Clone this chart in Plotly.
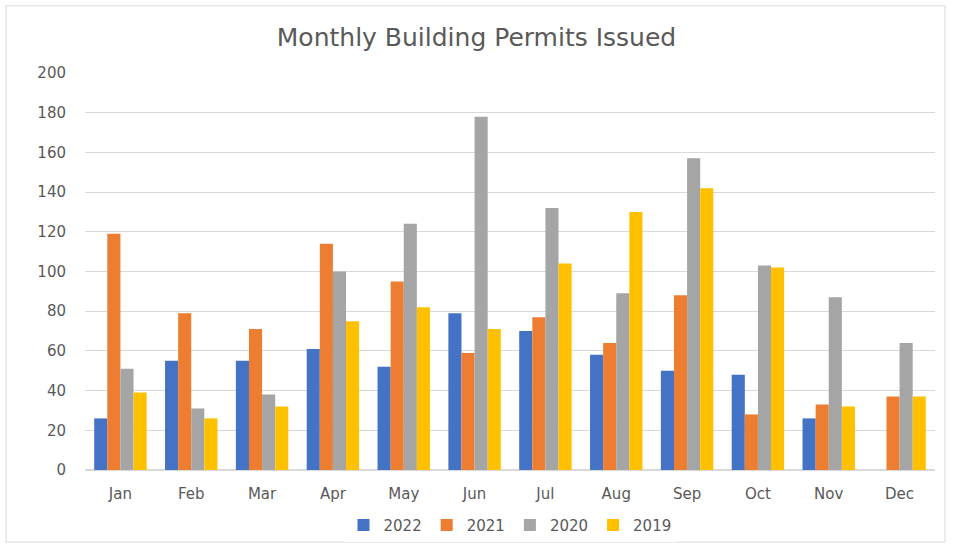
import plotly.graph_objects as go

months = ["Jan", "Feb", "Mar", "Apr", "May", "Jun", "Jul", "Aug", "Sep", "Oct", "Nov", "Dec"]
y2022 = [26, 55, 55, 61, 52, 79, 70, 58, 50, 48, 26, None]
y2021 = [119, 79, 71, 114, 95, 59, 77, 64, 88, 28, 33, 37]
y2020 = [51, 31, 38, 100, 124, 178, 132, 89, 157, 103, 87, 64]
y2019 = [39, 26, 32, 75, 82, 71, 104, 130, 142, 102, 32, 37]
series_names = ["2022", "2021", "2020", "2019"]
colors = ["#4472C4", "#ED7D31", "#A5A5A5", "#FFC000"]
y_ticks = [0, 20, 40, 60, 80, 100, 120, 140, 160, 180, 200]

W, H = 953, 554
L, R, T, B = 85, 18, 73, 79
pw, ph = W - L - R, H - T - B

fig = go.Figure()
for name, vals, col in zip(series_names, [y2022, y2021, y2020, y2019], colors):
    fig.add_trace(go.Bar(name=name, x=months, y=vals, marker=dict(color=col, line=dict(width=0))))

font = "DejaVu Sans, sans-serif"
fig.update_layout(
    width=W, height=H,
    margin=dict(l=L, r=R, t=T, b=B),
    paper_bgcolor="white", plot_bgcolor="white",
    barmode="group", bargap=0.26, bargroupgap=0,
    title=dict(text="Monthly Building Permits Issued", x=0.5, xanchor="center",
               y=1 - 37 / H, yanchor="middle",
               font=dict(family=font, size=25, color="#595959")),
    font=dict(family=font, color="#595959", size=15),
    legend=dict(orientation="h", x=0.5, xanchor="center", y=(T + ph - 531) / ph, yanchor="middle",
                font=dict(size=15, color="#595959"), itemwidth=30, traceorder="normal"),
    xaxis=dict(showgrid=False, ticks="", showline=True, linecolor="#d9d9d9",
               ticklabelstandoff=10, tickfont=dict(size=15, color="#595959")),
    yaxis=dict(range=[0, 200], tickvals=y_ticks, showgrid=True, gridcolor="#d9d9d9", gridwidth=1,
               zeroline=True, zerolinecolor="#d9d9d9", ticks="", ticklabelstandoff=18,
               tickfont=dict(size=15, color="#595959")),
)

# outer chart frame
fig.add_shape(type="rect", xref="paper", yref="paper",
              x0=(6 - L) / pw, x1=(945 - L) / pw,
              y0=(T + ph - 548) / ph, y1=(T + ph - 5) / ph,
              line=dict(color="#d9d9d9", width=1), layer="below")

fig.write_html("out.html", config={"displayModeBar": False},
               post_script="document.body.style.margin='0';document.body.style.overflow='hidden';")
